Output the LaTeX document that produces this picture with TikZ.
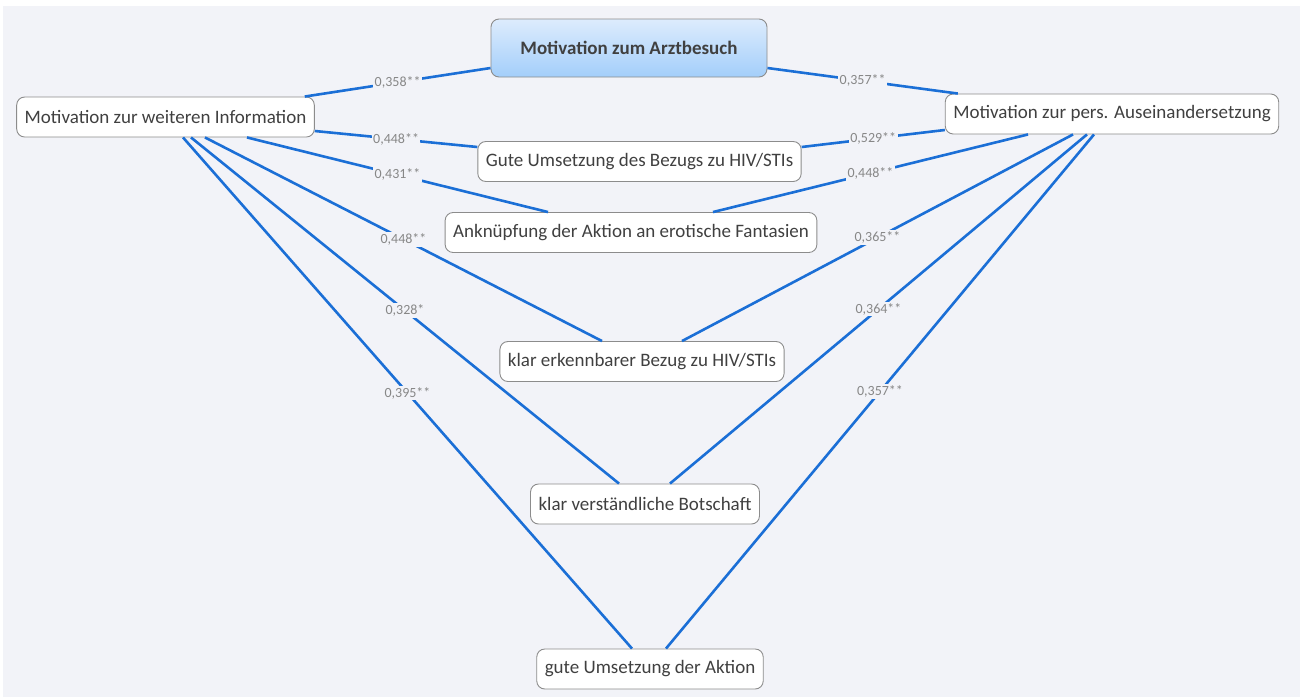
\documentclass[tikz,border=0pt]{standalone}
\usepackage{fontspec}
\setmainfont{Carlito}
\usetikzlibrary{positioning}
\definecolor{bgcol}{RGB}{242,243,248}
\definecolor{linkblue}{RGB}{27,111,214}
\definecolor{boxgray}{RGB}{140,140,140}
\definecolor{textgray}{RGB}{64,64,64}
\definecolor{valgray}{RGB}{135,135,135}
\definecolor{topblue}{RGB}{221,236,253}
\definecolor{botblue}{RGB}{163,206,250}

\begin{document}
\begin{tikzpicture}[x=1pt, y=-1pt,
            box/.style={draw=boxgray, fill=white, rounded corners=8pt, line width=0.9pt, minimum height=40pt, inner xsep=8pt, text=textgray, font=\fontsize{19}{22}\selectfont},
            mainbox/.style={box, top color=topblue, bottom color=botblue, minimum width=276pt, minimum height=58pt, font=\fontsize{19}{22}\selectfont\bfseries},
            link/.style={draw=linkblue, line width=2.6pt},
            val/.style={fill=bgcol, text=valgray, inner sep=1.5pt, font=\fontsize{14}{16}\selectfont}
        ]
            \useasboundingbox (0,0) rectangle (1307,697);
            \fill[white] (0,0) rectangle (1307,697);
            \fill[bgcol] (3,6) rectangle (1300,697);

            \node[mainbox] (arzt) at (629,48) {Motivation zum Arztbesuch};
            \node[box] (info) at (165.5,117) {Motivation zur weiteren Information};
            \node[box] (pers) at (1112,114) {Motivation zur pers. Auseinandersetzung};
            \node[box] (bezug) at (639.5,161.5) {Gute Umsetzung des Bezugs zu HIV/STIs};
            \node[box] (fantasie) at (631,232.5) {Anknüpfung der Aktion an erotische Fantasien};
            \node[box] (erkenn) at (642,361.5) {klar erkennbarer Bezug zu HIV/STIs};
            \node[box] (botschaft) at (645,504) {klar verständliche Botschaft};
            \node[box] (aktion) at (650,669) {gute Umsetzung der Aktion};

            \draw[link] ([xshift=-10pt]info.north east) -- node[val] {0,358**} ([yshift=-20pt]arzt.west);
            \draw[link] ([yshift=-14pt]info.east) -- node[val] {0,448**} ([yshift=14.5pt]bezug.west);
            \draw[link] ([xshift=81.5pt]info.south) -- node[val] {0,431**} ([xshift=-83pt]fantasie.north);
            \draw[link] ([xshift=39.5pt]info.south) -- node[val] {0,448**} ([xshift=-40pt]erkenn.north);
            \draw[link] ([xshift=25.5pt]info.south) -- node[val] {0,328*} ([xshift=-26pt]botschaft.north);
            \draw[link] ([xshift=17.5pt]info.south) -- node[val] {0,395**} ([xshift=-18pt]aktion.north);

            \draw[link] ([yshift=-20pt]arzt.east) -- node[val] {0,357**} ([xshift=13pt]pers.north west);
            \draw[link] ([yshift=14.5pt]bezug.east) -- node[val] {0,529**} ([yshift=-16pt]pers.west);
            \draw[link] ([xshift=82pt]fantasie.north) -- node[val] {0,448**} ([xshift=-84pt]pers.south);
            \draw[link] ([xshift=40pt]erkenn.north) -- node[val] {0,365**} ([xshift=-39pt]pers.south);
            \draw[link] ([xshift=25pt]botschaft.north) -- node[val] {0,364**} ([xshift=-25pt]pers.south);
            \draw[link] ([xshift=16pt]aktion.north) -- node[val] {0,357**} ([xshift=-18pt]pers.south);
        \end{tikzpicture}
\end{document}
